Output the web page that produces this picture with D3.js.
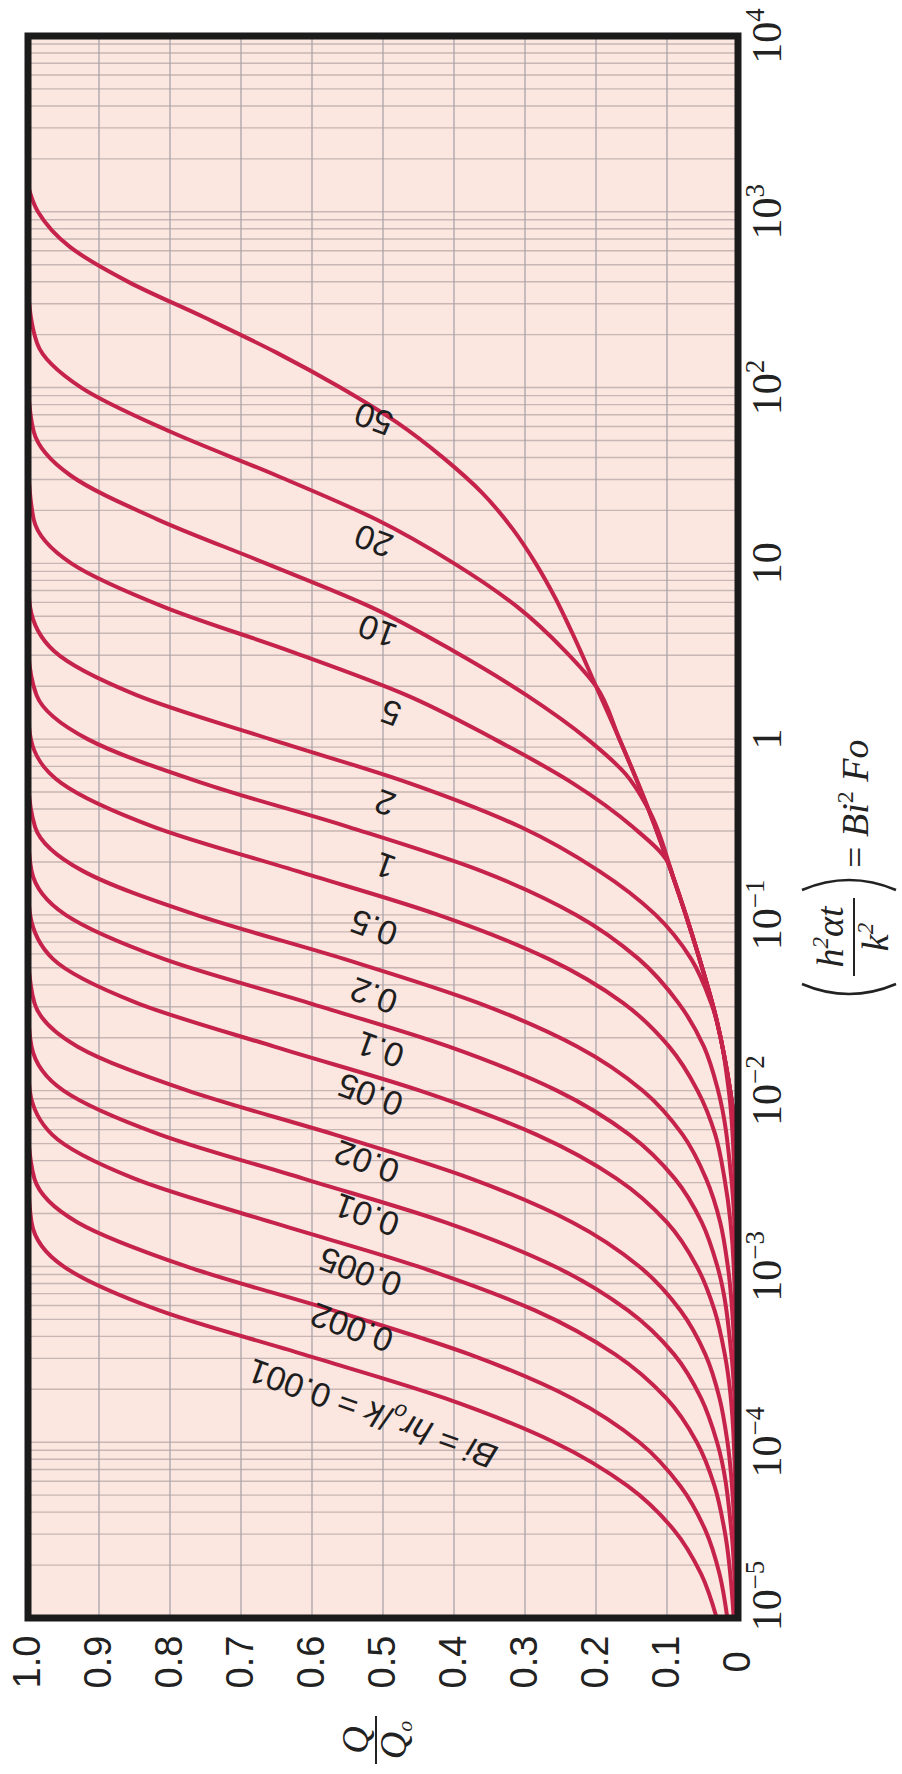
<!DOCTYPE html>
<html><head><meta charset="utf-8">
<script src="https://cdn.jsdelivr.net/npm/d3@7"></script>
<style>body{margin:0;background:#fff}</style>
</head><body>
<svg id="chart" width="902" height="1774"></svg>
<script>
// ---------- data ----------
const qTicks = [1.0, 0.9, 0.8, 0.7, 0.6, 0.5, 0.4, 0.3, 0.2, 0.1, 0];
const qTickLabels = ["1.0", "0.9", "0.8", "0.7", "0.6", "0.5", "0.4", "0.3", "0.2", "0.1", "0"];
const xTickExponents = [4, 3, 2, 1, 0, -1, -2, -3, -4, -5];
const biValues = ["0.001", "0.002", "0.005", "0.01", "0.02", "0.05", "0.1", "0.2", "0.5", "1", "2", "5", "10", "20", "50"];

// series: [Bi^2 Fo, Q/Qo]
const bi0001 = [[1e-5,0.030],[1.78e-5,0.052],[3.16e-5,0.090],[5.62e-5,0.155],[1e-4,0.259],[1.78e-4,0.413],[3.16e-4,0.612],[5.62e-4,0.815],[1e-3,0.950],[1.78e-3,0.995],[3.16e-3,1]];
const bi0002 = [[1e-5,0.015],[1.78e-5,0.026],[3.16e-5,0.046],[5.62e-5,0.081],[1e-4,0.139],[1.78e-4,0.234],[3.16e-4,0.378],[5.62e-4,0.570],[1e-3,0.777],[1.78e-3,0.930],[3.16e-3,0.991],[5.62e-3,1]];
const bi0005 = [[1e-5,0.006],[3.16e-5,0.019],[5.62e-5,0.033],[1e-4,0.058],[1.78e-4,0.101],[3.16e-4,0.173],[5.62e-4,0.286],[1e-3,0.451],[1.78e-3,0.656],[3.16e-3,0.850],[5.62e-3,0.966],[1e-2,0.9975],[1.41e-2,1]];
const bi001 = [[1e-5,0.003],[3.16e-5,0.0094],[1e-4,0.0295],[1.78e-4,0.052],[3.16e-4,0.090],[5.62e-4,0.155],[1e-3,0.258],[1.78e-3,0.412],[3.16e-3,0.612],[5.62e-3,0.814],[1e-2,0.950],[1.78e-2,0.995],[2.82e-2,1]];
const bi002 = [[1e-5,0.0015],[3.16e-5,0.0047],[1e-4,0.0148],[1.78e-4,0.026],[3.16e-4,0.046],[5.62e-4,0.081],[1e-3,0.139],[1.78e-3,0.233],[3.16e-3,0.376],[5.62e-3,0.568],[1e-2,0.775],[1.78e-2,0.930],[3.16e-2,0.991],[5.62e-2,1]];
const bi005 = [[1e-5,0.0006],[1e-4,0.0059],[3.16e-4,0.0186],[5.62e-4,0.033],[1e-3,0.058],[1.78e-3,0.100],[3.16e-3,0.171],[5.62e-3,0.284],[1e-2,0.448],[1.78e-2,0.653],[3.16e-2,0.847],[5.62e-2,0.965],[0.1,0.997],[0.141,1]];
const bi01 = [[1e-5,0.0003],[1e-4,0.0029],[3.16e-4,0.0093],[1e-3,0.029],[1.78e-3,0.051],[3.16e-3,0.089],[5.62e-3,0.153],[1e-2,0.255],[1.78e-2,0.407],[3.16e-2,0.605],[5.62e-2,0.809],[0.1,0.947],[0.178,0.995],[0.282,1]];
const bi02 = [[1e-4,0.0014],[3.16e-4,0.0046],[1e-3,0.0143],[1.78e-3,0.025],[3.16e-3,0.045],[5.62e-3,0.078],[1e-2,0.134],[1.78e-2,0.226],[3.16e-2,0.366],[5.62e-2,0.555],[0.1,0.763],[0.178,0.923],[0.316,0.990],[0.562,0.9997],[0.631,1]];
const bi05 = [[1e-4,0.0006],[1e-3,0.006],[3.16e-3,0.019],[5.62e-3,0.032],[1e-2,0.057],[1.78e-2,0.097],[3.16e-2,0.162],[5.62e-2,0.267],[0.1,0.422],[0.178,0.622],[0.316,0.822],[0.562,0.953],[1,0.996],[1.41,1]];
const bi1 = [[1e-4,0.0003],[1e-3,0.003],[3.16e-3,0.0094],[1e-2,0.028],[1.78e-2,0.048],[3.16e-2,0.084],[5.62e-2,0.140],[0.1,0.228],[0.178,0.362],[0.316,0.548],[0.562,0.754],[1,0.916],[1.78,0.988],[3.16,0.9996],[3.55,1]];
const bi2 = [[1e-3,0.0015],[3.16e-3,0.0047],[1e-2,0.013],[3.16e-2,0.038],[5.62e-2,0.066],[0.1,0.116],[0.178,0.196],[0.316,0.306],[0.562,0.463],[1,0.659],[1.78,0.847],[3.16,0.963],[5.62,0.997],[7.94,1]];
const bi5 = [[3.16e-3,0],[5e-3,0.002],[1e-2,0.011],[2.51e-2,0.030],[6.31e-2,0.058],[0.158,0.090],[0.2,0.099],[0.316,0.148],[0.562,0.233],[1,0.343],[1.78,0.467],[3.16,0.63],[5.62,0.807],[10,0.939],[17.8,0.992],[35.5,1]];
const bi10 = [[3.16e-3,0],[5e-3,0.002],[1e-2,0.011],[2.51e-2,0.030],[6.31e-2,0.058],[0.158,0.090],[0.398,0.126],[0.631,0.158],[1,0.212],[1.78,0.298],[3.16,0.400],[5.62,0.516],[10,0.665],[17.8,0.818],[31.6,0.94],[56.2,0.992],[100,1]];
const bi20 = [[3.16e-3,0],[5e-3,0.002],[1e-2,0.011],[2.51e-2,0.030],[6.31e-2,0.058],[0.158,0.090],[0.398,0.126],[1,0.167],[2,0.20],[3.16,0.243],[5.62,0.31],[10,0.40],[17.8,0.51],[31.6,0.65],[56.2,0.80],[100,0.925],[178,0.987],[355,1]];
const bi50 = [[3.16e-3,0],[5e-3,0.002],[1e-2,0.011],[2.51e-2,0.030],[6.31e-2,0.058],[0.158,0.090],[0.398,0.126],[1,0.167],[2,0.20],[3.98,0.233],[6.31,0.257],[10,0.285],[15.8,0.318],[25.1,0.36],[39.8,0.415],[63.1,0.48],[100,0.56],[158,0.65],[251,0.752],[398,0.858],[631,0.941],[1000,0.986],[1410,1]];
const seriesList = [bi0001, bi0002, bi0005, bi001, bi002, bi005, bi01, bi02, bi05, bi1, bi2, bi5, bi10, bi20, bi50];

// label anchors in data units: [Bi^2 Fo, Q/Qo]
const labelAnchors = [[1.45e-4,0.515],[4.48e-4,0.544],[9.3e-4,0.532],[1.96e-3,0.523],[3.94e-3,0.523],[9.46e-3,0.518],[1.71e-2,0.504],[3.46e-2,0.513],[8.43e-2,0.513],[0.19,0.497],[0.434,0.497],[1.41,0.489],[4.12,0.508],[13.4,0.513],[66.3,0.513]];

// ---------- chart ----------
const svg = d3.select("#chart");
const L = 28, R = 738, T = 36, B = 1618;
const x = d3.scaleLinear().domain([1, 0]).range([L, R]);
const y = d3.scaleLog().domain([1e4, 1e-5]).range([T, B]);

const sans = "'Liberation Sans', Arial, sans-serif";
const serif = "'Liberation Serif', 'Times New Roman', serif";

svg.append("defs").append("clipPath").attr("id", "clip")
  .append("rect").attr("x", L).attr("y", T).attr("width", R - L).attr("height", B - T);

svg.append("rect").attr("x", L).attr("y", T).attr("width", R - L).attr("height", B - T)
  .attr("fill", "#fbe6e0");

// horizontal (log) grid
const hTicks = y.ticks(60);
svg.append("g").selectAll("line").data(hTicks).join("line")
  .attr("x1", L).attr("x2", R)
  .attr("y1", d => y(d)).attr("y2", d => y(d))
  .attr("stroke", "#c7b6b4").attr("stroke-width", 1.4);

// vertical grid
svg.append("g").selectAll("line").data(qTicks.slice(1, -1)).join("line")
  .attr("x1", d => x(d)).attr("x2", d => x(d))
  .attr("y1", T).attr("y2", B)
  .attr("stroke", "#a9a4aa").attr("stroke-width", 1.3);

// curves
const line = d3.line().x(d => x(d[1])).y(d => y(d[0])).curve(d3.curveMonotoneY);
svg.append("g").attr("clip-path", "url(#clip)").selectAll("path")
  .data(seriesList.map(s => s.slice().sort((a, b) => b[0] - a[0])))
  .join("path")
  .attr("d", line)
  .attr("fill", "none").attr("stroke", "#c5234a").attr("stroke-width", 4)
  .attr("stroke-linejoin", "round").attr("stroke-linecap", "round");

// curve labels (upside-down, along curves)
const lab = svg.append("g").attr("font-family", sans).attr("font-size", 34).attr("fill", "#1e1e1e");
biValues.forEach((v, i) => {
  const [X, Q] = labelAnchors[i];
  const t = lab.append("text")
    .attr("transform", `translate(${x(Q)},${y(X)}) rotate(200)`)
    .attr("text-anchor", "middle").attr("dy", "0.35em");
  if (i === 0) {
    t.append("tspan").attr("font-style", "italic").text("Bi");
    t.append("tspan").text(" = ");
    t.append("tspan").attr("font-style", "italic").text("hr");
    t.append("tspan").attr("font-style", "italic").attr("font-size", 22).attr("dy", 7).text("o");
    t.append("tspan").attr("dy", -7).text("/");
    t.append("tspan").attr("font-style", "italic").text("k");
    t.append("tspan").text(" = " + v);
  } else {
    t.text(v);
  }
});

// border
svg.append("rect").attr("x", L).attr("y", T).attr("width", R - L).attr("height", B - T)
  .attr("fill", "none").attr("stroke", "#1b1b1b").attr("stroke-width", 7);

// Q axis labels (bottom, rotated)
svg.append("g").selectAll("text").data(qTicks).join("text")
  .attr("transform", d => `translate(${x(d) - 2},1662) rotate(-90)`)
  .attr("text-anchor", "middle").attr("dy", "0.36em")
  .attr("font-family", sans).attr("font-size", 38).attr("fill", "#222")
  .text((d, i) => qTickLabels[i]);

// x axis labels (right, rotated)
const xl = svg.append("g").attr("font-family", serif).attr("font-size", 42).attr("fill", "#222");
xTickExponents.forEach(e => {
  const yy = y(Math.pow(10, e)) + (e === -5 ? -22 : 0);
  const t = xl.append("text")
    .attr("transform", `translate(781,${yy}) rotate(-90)`)
    .attr("text-anchor", "middle");
  if (e === 0) t.text("1");
  else if (e === 1) t.text("10");
  else {
    t.append("tspan").text("10");
    t.append("tspan").attr("font-size", 27).attr("dy", -17).text(e < 0 ? "\u2212" + (-e) : String(e));
  }
});

// x axis title: (h^2 αt / k^2) = Bi^2 Fo, rotated
const tg = svg.append("g").attr("transform", "translate(868,1000) rotate(-90)")
  .attr("font-family", serif).attr("fill", "#222");
tg.append("path").attr("d", "M16,-66 Q-4,-19 16,28").attr("fill", "none").attr("stroke", "#222").attr("stroke-width", 2.6);
tg.append("path").attr("d", "M110,-66 Q130,-19 110,28").attr("fill", "none").attr("stroke", "#222").attr("stroke-width", 2.6);
const num = tg.append("text").attr("x", 63).attr("y", -25).attr("text-anchor", "middle").attr("font-size", 38).attr("font-style", "italic");
num.append("tspan").text("h");
num.append("tspan").attr("font-size", 23).attr("dy", -15).text("2");
num.append("tspan").attr("dy", 15).text("\u03b1t");
tg.append("line").attr("x1", 24).attr("x2", 102).attr("y1", -14).attr("y2", -14).attr("stroke", "#222").attr("stroke-width", 2);
const den = tg.append("text").attr("x", 63).attr("y", 20).attr("text-anchor", "middle").attr("font-size", 38).attr("font-style", "italic");
den.append("tspan").text("k");
den.append("tspan").attr("font-size", 23).attr("dy", -15).text("2");
const rhs = tg.append("text").attr("x", 132).attr("y", 0).attr("font-size", 38);
rhs.append("tspan").text("= ");
rhs.append("tspan").attr("font-style", "italic").text("Bi");
rhs.append("tspan").attr("font-size", 24).attr("dy", -15).text("2");
rhs.append("tspan").attr("dy", 15).attr("font-style", "italic").text(" Fo");

// y axis title: Q / Qo, rotated
const qg = svg.append("g").attr("transform", "translate(376,1740) rotate(-90)")
  .attr("font-family", serif).attr("font-style", "italic").attr("fill", "#222");
qg.append("text").attr("x", 0).attr("y", -8).attr("text-anchor", "middle").attr("font-size", 38).text("Q");
qg.append("line").attr("x1", -24).attr("x2", 24).attr("y1", 0).attr("y2", 0).attr("stroke", "#222").attr("stroke-width", 2);
const qd = qg.append("text").attr("x", 0).attr("y", 30).attr("text-anchor", "middle").attr("font-size", 38);
qd.append("tspan").text("Q");
qd.append("tspan").attr("font-size", 22).attr("dy", 6).text("o");
</script>
</body></html>
